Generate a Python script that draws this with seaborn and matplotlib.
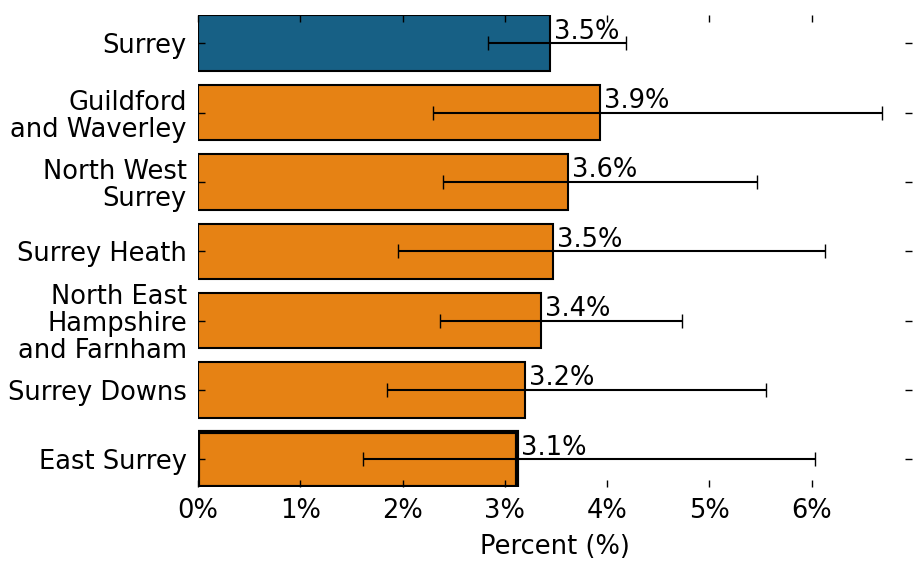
import matplotlib
matplotlib.use("Agg")
import matplotlib.pyplot as plt
import seaborn as sns
import numpy as np

# areas, values (%) and 95% CI
areas = ["Surrey", "Guildford\nand Waverley", "North West\nSurrey", "Surrey Heath",
         "North East\nHampshire\nand Farnham", "Surrey Downs", "East Surrey"]
values = [3.44, 3.93, 3.62, 3.47, 3.35, 3.20, 3.12]
lower = [2.84, 2.30, 2.40, 1.96, 2.37, 1.85, 1.61]
upper = [4.19, 6.69, 5.47, 6.13, 4.73, 5.55, 6.03]
labels = ["3.5%", "3.9%", "3.6%", "3.5%", "3.4%", "3.2%", "3.1%"]

blue = "#176085"
orange = "#e68214"
colors = [blue] + [orange] * (len(areas) - 1)

sns.set_style("white")
plt.rcParams['font.family'] = ['DejaVu Sans']
plt.rcParams['text.color'] = 'black'
plt.rcParams['axes.labelcolor'] = 'black'
fs = 18.5

fig, ax = plt.subplots(figsize=(9.21, 5.73), dpi=100)
sns.barplot(x=values, y=areas, hue=areas, palette=colors, legend=False,
            orient="h", width=0.8, saturation=1, ax=ax)

# black outline, thicker for East Surrey
for i, p in enumerate(ax.patches):
    p.set_edgecolor("black")
    p.set_linewidth(3 if areas[i] == "East Surrey" else 1.5)

ypos = np.arange(len(areas))
err = [np.array(values) - np.array(lower), np.array(upper) - np.array(values)]
ax.errorbar(values, ypos, xerr=err, fmt="none", ecolor="black", elinewidth=1.5,
            capsize=5, capthick=1)

for y, v, t in zip(ypos, values, labels):
    ax.text(v + 0.04, y + 0.02, t, ha="left", va="bottom", fontsize=fs, color="black")

ax.set_xlim(0, 6.98)
ax.set_ylim(len(areas) - 0.6, -0.4)
ax.set_xticks(range(7))
ax.set_xticklabels([f"{i}%" for i in range(7)])
ax.set_xlabel("Percent (%)", fontsize=fs, labelpad=7)
ax.set_ylabel("")
for s in ax.spines.values():
    s.set_visible(False)
ax.set_axisbelow(False)
ax.tick_params(direction="in", top=True, right=True, bottom=True, left=True,
               length=5, width=1, labelsize=fs, colors="black")
ax.tick_params(axis="y", pad=8)
ax.tick_params(axis="x", pad=8)
for t in ax.get_yticklabels():
    t.set_linespacing(1.05)

plt.subplots_adjust(left=0.215, right=0.99, top=0.973, bottom=0.15)
plt.savefig("out.png", dpi=100)
